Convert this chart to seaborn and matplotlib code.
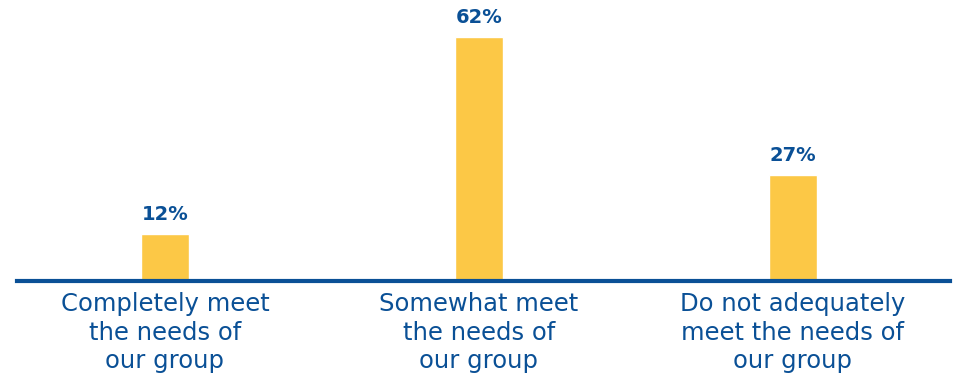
import matplotlib
matplotlib.use("Agg")
import matplotlib.pyplot as plt
import seaborn as sns
import pandas as pd

categories = ["Completely meet\nthe needs of\nour group",
              "Somewhat meet\nthe needs of\nour group",
              "Do not adequately\nmeet the needs of\nour group"]
values = [12, 62, 27]
labels = ["12%", "62%", "27%"]

sns.set_style("white")
plt.rcParams['font.family'] = ['DejaVu Sans']

BLUE = "#0A5096"
YELLOW = "#FCC846"

df = pd.DataFrame({"cat": categories, "val": values})
fig = plt.figure(figsize=(9.68, 3.77), dpi=100)
ax = fig.add_axes([17/968, (377-281)/377, (950-17)/968, 276/377])
sns.barplot(data=df, x="cat", y="val", color=YELLOW, width=0.153, ax=ax, saturation=1)
ax.set_xlim(-0.471, 2.5)
ax.set_ylim(0, 70)
for i, (v, l) in enumerate(zip(values, labels)):
    ax.text(i, v + 2.4, l, ha="center", va="bottom", fontsize=14, fontweight="bold", color=BLUE)
for s in ["top", "right", "left"]:
    ax.spines[s].set_visible(False)
ax.spines["bottom"].set_color(BLUE)
ax.spines["bottom"].set_linewidth(3)
ax.set_yticks([])
ax.set_xlabel("")
ax.set_ylabel("")
ax.tick_params(axis="x", length=0, pad=8, labelsize=17.5, labelcolor=BLUE)
for t in ax.get_xticklabels():
    t.set_linespacing(1.24)
fig.savefig("out.png", dpi=100)
